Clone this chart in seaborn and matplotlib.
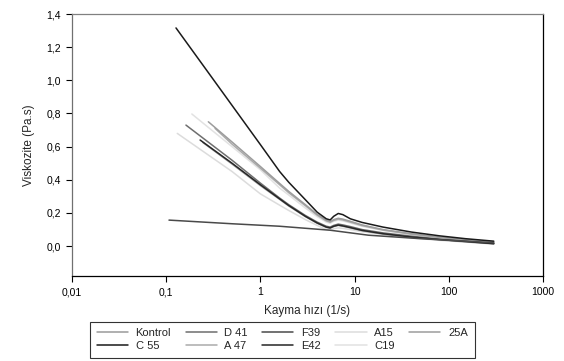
import numpy as np
import pandas as pd
import matplotlib
matplotlib.use("Agg")
import matplotlib.pyplot as plt
from matplotlib.lines import Line2D
import seaborn as sns

# ---- veriler ----
ornekler = ["Kontrol", "C 55", "D 41", "A 47", "F39", "E42", "A15", "C19", "25A"]
renkler = ["#9a9a9a", "#1a1a1a", "#6e6e6e", "#ababab", "#4a4a4a",
           "#262626", "#dcdcdc", "#e2e2e2", "#9c9c9c"]

ortak_x = [1, 1.6, 2, 3, 4, 5, 5.5, 6, 6.7, 7.5, 9, 12, 20, 40, 80, 150, 300]

c55_x = [0.127, 0.3] + ortak_x
c55_y = [1.316, 1.023, 0.612, 0.45, 0.385, 0.28, 0.205, 0.165, 0.158, 0.18, 0.197,
         0.19, 0.165, 0.143, 0.115, 0.085, 0.062, 0.045, 0.03]

a25_x = [0.28, 0.5] + ortak_x
a25_y = [0.75, 0.628, 0.48, 0.378, 0.33, 0.25, 0.192, 0.157, 0.148, 0.16, 0.168,
         0.163, 0.15, 0.128, 0.1, 0.075, 0.055, 0.04, 0.026]

a47_x = [0.33, 0.5] + ortak_x
a47_y = [0.71, 0.615, 0.47, 0.37, 0.322, 0.244, 0.187, 0.152, 0.144, 0.155, 0.163,
         0.158, 0.145, 0.124, 0.097, 0.072, 0.052, 0.037, 0.023]

c19_x = [0.187, 0.5] + ortak_x
c19_y = [0.797, 0.6, 0.46, 0.35, 0.308, 0.23, 0.178, 0.145, 0.138, 0.15, 0.157,
         0.152, 0.14, 0.12, 0.095, 0.07, 0.05, 0.035, 0.02]

d41_x = [0.162, 0.5] + ortak_x
d41_y = [0.73, 0.518, 0.38, 0.29, 0.25, 0.185, 0.145, 0.12, 0.115, 0.125, 0.133,
         0.128, 0.118, 0.1, 0.08, 0.06, 0.042, 0.03, 0.016]

e42_x = [0.229, 0.5] + ortak_x
e42_y = [0.64, 0.5, 0.37, 0.285, 0.245, 0.18, 0.14, 0.115, 0.11, 0.12, 0.127,
         0.122, 0.112, 0.095, 0.075, 0.055, 0.04, 0.028, 0.015]

kontrol_x = [0.245, 0.5] + ortak_x
kontrol_y = [0.625, 0.495, 0.365, 0.282, 0.242, 0.178, 0.138, 0.113, 0.108, 0.118, 0.125,
             0.12, 0.11, 0.093, 0.073, 0.053, 0.038, 0.026, 0.014]

a15_x = [0.131, 0.5] + ortak_x
a15_y = [0.68, 0.45, 0.315, 0.247, 0.215, 0.16, 0.125, 0.1, 0.097, 0.105, 0.11,
         0.107, 0.1, 0.087, 0.07, 0.05, 0.035, 0.025, 0.012]

f39_x = [0.107, 0.5, 1.6, 5.5, 14, 50, 150, 300]
f39_y = [0.157, 0.135, 0.12, 0.096, 0.066, 0.045, 0.03, 0.02]

seriler = {
    "Kontrol": (kontrol_x, kontrol_y),
    "C 55": (c55_x, c55_y),
    "D 41": (d41_x, d41_y),
    "A 47": (a47_x, a47_y),
    "F39": (f39_x, f39_y),
    "E42": (e42_x, e42_y),
    "A15": (a15_x, a15_y),
    "C19": (c19_x, c19_y),
    "25A": (a25_x, a25_y),
}

x_tikler = [0.01, 0.1, 1, 10, 100, 1000]
x_etiketler = ["0,01", "0,1", "1", "10", "100", "1000"]
y_tikler = [0.0, 0.2, 0.4, 0.6, 0.8, 1.0, 1.2, 1.4]
y_etiketler = ["0,0", "0,2", "0,4", "0,6", "0,8", "1,0", "1,2", "1,4"]

# uzun formatli tablo
satirlar = []
for ad, (xs, ys) in seriler.items():
    for xv, yv in zip(xs, ys):
        satirlar.append({"ornek": ad, "kayma": xv, "viskozite": yv})
df = pd.DataFrame(satirlar)

sns.set_theme(style="white")
plt.rcParams["font.family"] = ["Liberation Sans", "DejaVu Sans"]

fig = plt.figure(figsize=(5.64, 3.61), dpi=100)
ax = fig.add_axes([0.1277, 0.2355, 0.8351, 0.7257])

# cizim sirasi: acik renkler altta
cizim_sirasi = ["A15", "C19", "A 47", "25A", "Kontrol", "D 41", "E42", "F39", "C 55"]
palet = dict(zip(ornekler, renkler))
for ad in cizim_sirasi:
    sns.lineplot(data=df[df["ornek"] == ad], x="kayma", y="viskozite",
                 color=palet[ad], lw=1.1, estimator=None, sort=False, ax=ax)

ax.set_xscale("log")
ax.set_xlim(0.01, 1000)
ax.set_ylim(-0.18, 1.4)
ax.set_xticks(x_tikler)
ax.set_xticklabels(x_etiketler)
ax.minorticks_off()
ax.set_yticks(y_tikler)
ax.set_yticklabels(y_etiketler)
ax.tick_params(axis="both", direction="out", length=4, width=0.8, labelsize=7.5,
               left=True, bottom=True, colors="black", pad=4)

ax.spines["left"].set_color("#707070")
ax.spines["top"].set_color("#808080")
ax.spines["bottom"].set_color("black")
ax.spines["right"].set_color("black")
for s in ax.spines.values():
    s.set_linewidth(0.9)

ax.set_xlabel("Kayma hızı (1/s)", fontsize=8.5, labelpad=6)
ax.set_ylabel("Viskozite (Pa.s)", fontsize=8.5, labelpad=8)

# lejant
tutamaclar = [Line2D([0], [0], color=palet[ad], lw=1.1) for ad in ornekler]
lej = fig.legend(tutamaclar, ornekler, loc="upper left",
                 bbox_to_anchor=(90 / 564, 1 - 321.5 / 361), ncol=5,
                 fontsize=8, frameon=True, fancybox=False, edgecolor="black",
                 handlelength=2.8, handletextpad=0.7, columnspacing=1.3,
                 borderpad=0.6, labelspacing=0.25, borderaxespad=0)
lej.get_frame().set_linewidth(0.8)

fig.savefig("out.png", dpi=100)
